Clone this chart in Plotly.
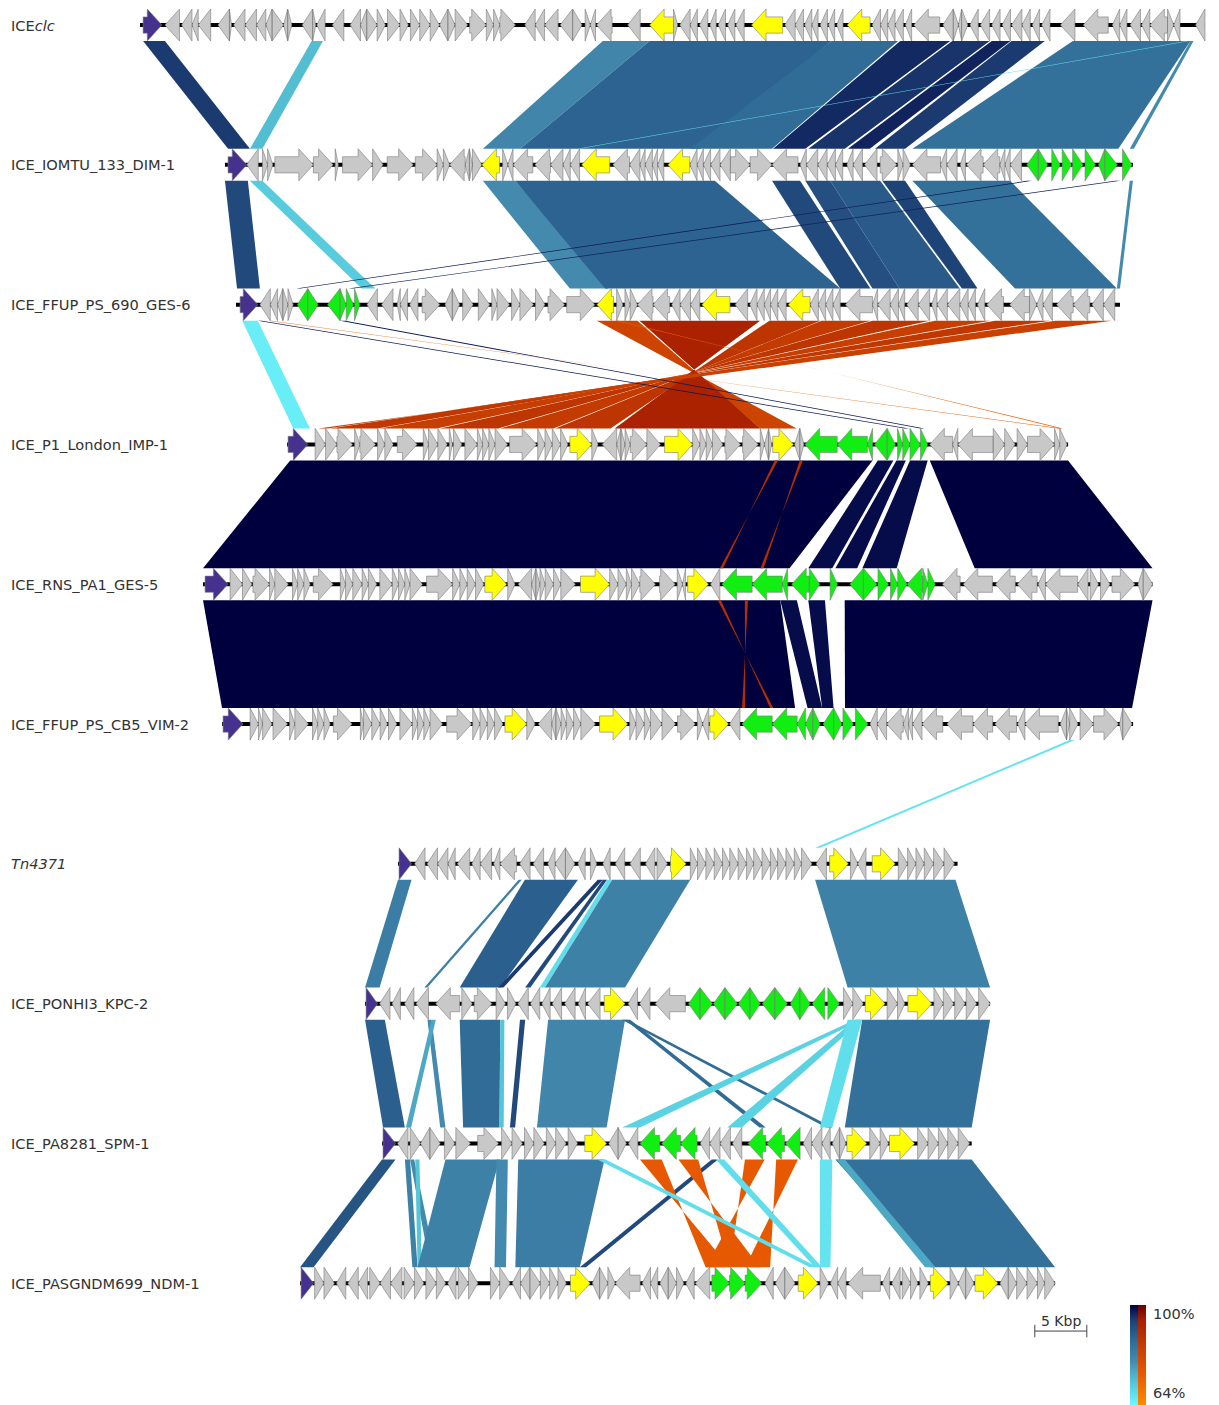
import plotly.graph_objects as go
from plotly.colors import sample_colorscale

# ---------------------------------------------------------------- tracks
TRACK_NAMES = [
    "ICE<i>clc</i>", "ICE_IOMTU_133_DIM-1", "ICE_FFUP_PS_690_GES-6",
    "ICE_P1_London_IMP-1", "ICE_RNS_PA1_GES-5", "ICE_FFUP_PS_CB5_VIM-2",
    "<i>Tn4371</i>", "ICE_PONHI3_KPC-2", "ICE_PA8281_SPM-1", "ICE_PASGNDM699_NDM-1",
]
# left end of each element on the shared kbp axis, and element length (kbp)
TRACK_OFFSETS = [13.46, 21.63, 22.69, 27.60, 19.52, 21.35, 38.27, 35.10, 36.73, 28.85]
TRACK_LENGTHS = [102.4, 87.3, 85.0, 75.1, 91.3, 87.6, 53.8, 60.1, 56.7, 72.6]

# genes: (start kbp, end kbp, strand, class)  i=integrase, m=marker, c=cargo, o=other
GENES_0 = [
    (0.3, 2.1, 1, "i"),
    (2.4, 3.8, -1, "o"), (4.0, 5.0, -1, "o"), (5.0, 5.6, -1, "o"), (5.6, 6.8, -1, "o"),
    (7.5, 8.6, -1, "o"), (8.6, 8.8, 1, "o"), (9.0, 10.1, -1, "o"), (10.1, 11.2, -1, "o"),
    (11.2, 12.1, -1, "o"), (12.1, 12.7, -1, "o"), (12.7, 13.8, 1, "o"), (13.8, 14.2, -1, "o"),
    (14.2, 14.6, 1, "o"), (15.6, 16.6, -1, "o"), (16.6, 16.9, 1, "o"), (17.0, 17.8, -1, "o"),
    (18.5, 19.6, -1, "o"), (20.2, 21.2, -1, "o"), (21.2, 21.8, -1, "o"), (21.8, 22.8, 1, "o"),
    (22.8, 23.6, 1, "o"), (23.8, 25.0, 1, "o"), (25.0, 25.8, 1, "o"), (26.0, 26.9, 1, "o"),
    (26.9, 27.9, 1, "o"), (27.9, 28.8, 1, "o"), (28.8, 29.6, -1, "o"), (29.6, 30.3, 1, "o"),
    (30.3, 31.5, 1, "o"), (31.7, 33.3, 1, "o"), (33.3, 34.0, 1, "o"), (34.0, 34.6, 1, "o"),
    (34.6, 36.1, 1, "o"), (37.0, 38.0, -1, "o"), (38.0, 38.9, -1, "o"), (38.9, 40.2, -1, "o"),
    (40.4, 41.6, -1, "o"), (41.6, 42.5, 1, "o"), (42.8, 43.3, 1, "o"), (43.3, 43.8, -1, "o"),
    (43.9, 45.4, -1, "o"), (46.9, 48.1, -1, "o"),
    (49.0, 51.3, -1, "m"),
    (51.3, 51.7, 1, "o"), (51.9, 52.9, -1, "o"), (52.9, 53.6, -1, "o"), (53.8, 54.6, -1, "o"),
    (54.8, 55.4, -1, "o"), (55.6, 56.3, -1, "o"), (56.5, 57.2, -1, "o"), (57.3, 58.1, -1, "o"),
    (58.8, 61.8, -1, "m"),
    (62.0, 63.0, -1, "o"), (63.0, 63.8, -1, "o"), (63.9, 64.6, -1, "o"), (64.6, 65.2, -1, "o"),
    (65.4, 66.1, -1, "o"), (66.2, 66.8, -1, "o"), (67.0, 67.6, -1, "o"),
    (68.0, 70.2, -1, "m"),
    (70.4, 71.2, -1, "o"), (71.2, 71.9, -1, "o"), (71.9, 72.6, -1, "o"), (72.6, 73.4, -1, "o"),
    (73.6, 74.2, -1, "o"), (74.4, 76.9, -1, "o"), (77.2, 78.2, -1, "o"), (78.2, 78.7, 1, "o"),
    (78.7, 79.0, -1, "o"), (79.0, 79.6, 1, "o"), (79.8, 80.6, -1, "o"), (80.8, 81.7, -1, "o"),
    (81.9, 82.7, -1, "o"), (82.9, 83.7, -1, "o"), (83.8, 84.8, -1, "o"), (84.8, 85.6, -1, "o"),
    (85.8, 86.5, -1, "o"), (86.7, 87.5, -1, "o"), (88.5, 89.9, -1, "o"), (90.7, 93.1, -1, "o"),
    (93.5, 94.2, -1, "o"), (94.2, 94.9, -1, "o"), (95.2, 96.2, -1, "o"), (96.3, 97.1, -1, "o"),
    (97.1, 98.8, -1, "o"), (98.8, 99.4, 1, "o"), (99.4, 100.0, -1, "o"), (101.5, 102.4, -1, "o"),
]
GENES_1 = [
    (0.3, 2.1, 1, "i"),
    (2.1, 3.2, -1, "o"), (3.6, 4.1, 1, "o"), (4.1, 4.6, 1, "o"), (4.8, 8.5, 1, "o"),
    (8.5, 10.4, 1, "o"), (10.6, 10.9, 1, "o"), (11.3, 14.2, 1, "o"), (14.2, 15.2, 1, "o"),
    (15.6, 18.1, 1, "o"), (18.3, 20.4, 1, "o"), (20.4, 21.0, 1, "o"), (21.0, 21.6, 1, "o"),
    (21.6, 23.1, -1, "o"), (23.1, 23.5, -1, "o"), (23.5, 23.8, 1, "o"), (23.8, 24.7, 1, "o"),
    (24.7, 26.4, -1, "m"),
    (26.7, 27.2, 1, "o"), (27.2, 27.7, -1, "o"), (27.7, 29.6, -1, "o"), (29.8, 31.3, -1, "o"),
    (31.3, 32.5, -1, "o"), (32.5, 33.2, -1, "o"), (33.2, 34.1, -1, "o"),
    (34.3, 37.0, -1, "m"),
    (37.3, 38.9, -1, "o"), (38.9, 39.9, -1, "o"), (39.9, 40.4, -1, "o"), (40.4, 41.1, -1, "o"),
    (41.1, 41.6, -1, "o"), (41.6, 42.2, -1, "o"),
    (42.6, 44.7, -1, "m"),
    (44.7, 45.4, -1, "o"), (45.4, 46.0, -1, "o"), (46.0, 46.7, -1, "o"), (46.7, 47.6, -1, "o"),
    (47.6, 48.6, -1, "o"), (48.6, 50.5, 1, "o"), (50.5, 52.6, 1, "o"), (52.6, 55.1, -1, "o"),
    (55.3, 55.9, -1, "o"), (55.9, 57.0, -1, "o"), (57.0, 57.9, -1, "o"), (57.9, 58.7, -1, "o"),
    (58.7, 59.4, -1, "o"), (59.8, 60.4, -1, "o"), (60.4, 61.3, -1, "o"), (61.5, 62.7, -1, "o"),
    (63.0, 64.6, 1, "o"), (64.7, 65.2, 1, "o"), (65.2, 65.9, 1, "o"), (66.1, 68.8, -1, "o"),
    (68.8, 69.4, -1, "o"), (69.4, 70.4, -1, "o"), (70.7, 71.2, -1, "o"), (71.3, 72.9, -1, "o"),
    (72.9, 74.5, -1, "o"), (74.5, 75.0, -1, "o"), (75.0, 75.5, -1, "o"), (75.5, 76.6, -1, "o"),
    (77.1, 78.2, -1, "c"), (78.2, 79.1, 1, "c"), (79.5, 80.3, 1, "c"), (80.5, 81.4, 1, "c"),
    (81.5, 82.5, 1, "c"), (82.7, 83.7, 1, "c"), (84.0, 84.6, -1, "c"), (84.6, 85.8, 1, "c"),
    (86.3, 87.2, 1, "c"),
]
GENES_2 = [
    (0.4, 2.1, 1, "i"),
    (2.3, 3.3, -1, "o"), (3.3, 4.0, -1, "o"), (4.0, 4.5, -1, "o"), (4.5, 5.0, 1, "o"), (5.0, 5.5, 1, "o"),
    (5.9, 6.9, -1, "c"), (6.9, 7.9, 1, "c"), (8.8, 10.0, -1, "c"), (10.0, 10.6, 1, "c"),
    (10.6, 11.3, 1, "c"), (11.4, 11.9, 1, "c"),
    (12.6, 13.6, -1, "o"), (14.0, 15.1, -1, "o"), (15.5, 15.8, -1, "o"), (15.8, 16.5, -1, "o"),
    (16.7, 17.5, -1, "o"), (17.9, 19.6, 1, "o"), (20.1, 20.8, -1, "o"), (20.8, 21.5, 1, "o"),
    (21.8, 22.8, 1, "o"), (23.3, 24.4, 1, "o"), (24.6, 25.1, 1, "o"), (25.1, 26.3, 1, "o"),
    (26.5, 27.3, 1, "o"), (27.3, 28.6, 1, "o"), (28.8, 29.7, 1, "o"), (30.0, 31.6, 1, "o"),
    (31.8, 34.5, 1, "o"),
    (34.7, 36.3, -1, "m"),
    (36.6, 37.2, 1, "o"), (37.4, 37.9, 1, "o"), (37.9, 38.6, 1, "o"), (38.6, 40.1, -1, "o"),
    (40.1, 41.7, -1, "o"), (41.9, 42.7, -1, "o"), (42.7, 43.7, -1, "o"), (43.7, 44.6, -1, "o"),
    (44.8, 47.5, -1, "m"),
    (48.0, 49.2, -1, "o"), (49.4, 50.1, -1, "o"), (50.1, 50.8, -1, "o"), (50.8, 51.4, -1, "o"),
    (51.4, 52.1, -1, "o"), (52.1, 52.9, -1, "o"),
    (53.1, 55.2, -1, "m"),
    (55.2, 56.0, -1, "o"), (56.0, 56.7, -1, "o"), (56.7, 57.4, -1, "o"), (57.4, 58.1, -1, "o"),
    (58.6, 61.2, -1, "o"), (61.2, 61.7, -1, "o"), (61.7, 62.9, -1, "o"), (62.9, 63.7, -1, "o"),
    (63.7, 64.3, -1, "o"), (64.5, 65.6, -1, "o"), (65.6, 66.7, -1, "o"), (66.9, 67.4, -1, "o"),
    (67.4, 68.4, -1, "o"), (68.4, 69.6, -1, "o"), (69.6, 70.4, -1, "o"), (70.4, 71.1, -1, "o"),
    (71.3, 72.0, -1, "o"), (72.2, 73.8, -1, "o"), (74.4, 76.3, -1, "o"), (76.3, 77.0, 1, "o"),
    (77.0, 77.6, -1, "o"), (77.6, 78.5, -1, "o"), (78.9, 80.5, -1, "o"), (80.5, 82.1, -1, "o"),
    (82.3, 83.4, -1, "o"), (83.4, 84.5, -1, "o"),
]
GENES_3 = [
    (0.1, 2.0, 1, "i"),
    (2.7, 3.7, 1, "o"), (3.7, 4.8, 1, "o"), (4.8, 6.3, 1, "o"), (6.5, 7.0, 1, "o"), (7.0, 8.5, 1, "o"),
    (8.7, 9.4, 1, "o"), (9.4, 10.2, 1, "o"), (10.6, 12.5, 1, "o"), (13.1, 13.6, 1, "o"),
    (13.6, 14.5, 1, "o"), (14.5, 15.4, 1, "o"), (15.6, 15.9, 1, "o"), (16.0, 16.8, 1, "o"),
    (17.1, 18.3, 1, "o"), (18.3, 18.8, 1, "o"), (18.8, 19.4, 1, "o"), (19.4, 20.0, 1, "o"),
    (20.0, 21.2, 1, "o"), (21.4, 24.0, 1, "o"), (24.1, 24.8, 1, "o"), (24.8, 25.5, 1, "o"),
    (25.5, 26.3, 1, "o"), (26.3, 27.0, 1, "o"),
    (27.2, 29.3, 1, "m"),
    (29.3, 29.9, 1, "o"), (30.3, 31.7, -1, "o"), (31.7, 32.1, -1, "o"), (32.1, 32.5, 1, "o"),
    (32.5, 33.0, 1, "o"), (33.0, 34.6, 1, "o"), (34.6, 35.9, 1, "o"),
    (36.3, 39.0, 1, "m"),
    (39.0, 39.7, 1, "o"), (39.7, 40.3, 1, "o"), (40.3, 40.9, 1, "o"), (40.9, 41.9, 1, "o"),
    (42.1, 43.6, 1, "o"), (43.8, 45.3, 1, "o"), (45.5, 45.9, 1, "o"), (45.9, 46.3, -1, "o"),
    (46.3, 46.6, 1, "o"),
    (46.7, 48.7, 1, "m"),
    (48.8, 49.3, -1, "o"), (49.3, 49.7, 1, "o"),
    (49.8, 52.9, -1, "c"), (52.9, 55.8, -1, "c"), (55.8, 56.3, -1, "c"), (56.5, 57.7, -1, "c"),
    (57.7, 58.5, 1, "c"), (58.7, 59.2, 1, "c"), (59.2, 59.9, 1, "c"), (59.9, 60.9, 1, "c"),
    (60.9, 61.6, 1, "c"),
    (61.8, 64.0, -1, "o"), (64.0, 64.5, -1, "o"), (64.5, 67.9, -1, "o"), (67.9, 69.0, 1, "o"),
    (69.0, 70.0, 1, "o"), (70.2, 71.2, 1, "o"), (71.2, 73.8, 1, "o"), (73.8, 74.3, 1, "o"),
    (74.3, 75.0, 1, "o"),
]
GENES_4 = [
    (0.2, 2.4, 1, "i"),
    (2.6, 3.8, 1, "o"), (3.8, 4.7, 1, "o"), (4.8, 6.4, 1, "o"), (6.4, 6.9, 1, "o"), (6.9, 8.2, 1, "o"),
    (8.6, 9.1, 1, "o"), (9.1, 9.7, 1, "o"), (9.7, 10.3, 1, "o"), (10.6, 12.5, 1, "o"),
    (13.2, 13.7, 1, "o"), (13.7, 14.4, 1, "o"), (14.4, 15.3, 1, "o"), (15.3, 15.9, 1, "o"),
    (15.9, 16.7, 1, "o"), (17.0, 18.2, 1, "o"), (18.2, 18.8, 1, "o"), (18.8, 19.4, 1, "o"),
    (19.4, 19.9, 1, "o"), (19.9, 21.1, 1, "o"), (21.5, 24.0, 1, "o"), (24.0, 24.7, 1, "o"),
    (24.7, 25.4, 1, "o"), (25.4, 26.2, 1, "o"), (26.2, 27.0, 1, "o"),
    (27.1, 29.2, 1, "m"),
    (29.3, 30.0, 1, "o"), (30.3, 31.6, -1, "o"), (31.6, 32.0, -1, "o"), (32.0, 32.4, 1, "o"),
    (32.4, 32.9, 1, "o"), (32.9, 33.7, 1, "o"), (33.7, 34.4, 1, "o"), (34.4, 35.8, 1, "o"),
    (36.3, 39.1, 1, "m"),
    (39.1, 39.9, 1, "o"), (39.9, 40.7, 1, "o"), (40.7, 41.2, 1, "o"), (41.2, 42.0, 1, "o"),
    (42.0, 43.5, 1, "o"), (43.9, 45.4, 1, "o"), (45.6, 46.1, 1, "o"), (46.1, 46.4, -1, "o"),
    (46.6, 48.6, 1, "m"),
    (48.8, 49.7, -1, "o"),
    (49.9, 52.8, -1, "c"), (52.8, 55.7, -1, "c"), (55.7, 56.2, -1, "c"), (56.6, 58.3, -1, "c"),
    (58.3, 59.3, 1, "c"), (60.3, 61.0, 1, "c"), (62.2, 63.5, -1, "c"), (63.5, 64.8, 1, "c"),
    (64.9, 65.9, 1, "c"), (66.1, 66.8, 1, "c"), (66.8, 67.7, 1, "c"), (67.7, 69.2, -1, "c"),
    (69.2, 69.7, 1, "c"), (69.7, 70.4, 1, "c"),
    (71.1, 72.8, -1, "o"), (73.1, 75.9, -1, "o"), (76.2, 78.1, -1, "o"), (78.3, 80.2, -1, "o"),
    (80.3, 81.0, -1, "o"), (81.0, 84.1, -1, "o"), (84.1, 85.1, -1, "o"), (85.3, 86.1, 1, "o"),
    (86.3, 87.2, 1, "o"), (87.4, 89.6, 1, "o"), (89.9, 90.4, -1, "o"), (90.4, 91.3, 1, "o"),
]
GENES_5 = [
    (0.1, 2.0, 1, "i"),
    (2.7, 3.5, 1, "o"), (3.5, 3.9, 1, "o"), (3.9, 4.8, 1, "o"), (4.9, 6.3, 1, "o"), (6.5, 7.0, 1, "o"),
    (7.0, 8.3, 1, "o"), (8.7, 9.2, 1, "o"), (9.2, 9.8, 1, "o"), (9.8, 10.4, 1, "o"),
    (10.7, 12.5, 1, "o"), (13.3, 13.6, 1, "o"), (13.6, 14.4, 1, "o"), (14.4, 15.2, 1, "o"),
    (15.2, 15.9, 1, "o"), (16.0, 16.8, 1, "o"), (17.1, 18.3, 1, "o"), (18.3, 18.8, 1, "o"),
    (18.8, 19.4, 1, "o"), (19.4, 20.0, 1, "o"), (20.0, 21.2, 1, "o"), (21.6, 24.0, 1, "o"),
    (24.1, 24.8, 1, "o"), (24.8, 25.5, 1, "o"), (25.5, 26.2, 1, "o"), (26.2, 27.0, 1, "o"),
    (27.2, 29.3, 1, "m"),
    (29.3, 30.1, 1, "o"), (30.4, 31.7, -1, "o"), (31.7, 32.1, -1, "o"), (32.1, 32.6, 1, "o"),
    (32.6, 33.1, 1, "o"), (33.1, 33.8, 1, "o"), (33.8, 34.5, 1, "o"), (34.5, 35.9, 1, "o"),
    (36.3, 39.0, 1, "m"),
    (39.2, 39.8, 1, "o"), (39.8, 40.6, 1, "o"), (40.6, 41.2, 1, "o"), (41.2, 42.3, 1, "o"),
    (42.3, 43.6, 1, "o"), (43.8, 45.5, 1, "o"), (45.7, 46.2, 1, "o"), (46.2, 46.8, -1, "o"),
    (46.9, 48.7, 1, "m"),
    (48.8, 49.8, -1, "o"),
    (50.0, 52.9, -1, "c"), (52.9, 55.3, -1, "c"), (55.3, 56.1, -1, "c"), (56.1, 56.8, -1, "c"),
    (56.8, 57.5, 1, "c"), (57.8, 58.8, -1, "c"), (58.8, 59.6, 1, "c"), (59.7, 60.7, 1, "c"),
    (60.9, 62.1, 1, "c"),
    (62.3, 63.0, -1, "o"), (63.0, 63.9, -1, "o"), (63.9, 65.5, -1, "o"), (65.5, 66.0, -1, "o"),
    (66.0, 66.4, -1, "o"), (66.4, 67.3, -1, "o"), (67.3, 69.3, -1, "o"), (69.7, 72.2, -1, "o"),
    (72.2, 74.1, -1, "o"), (74.3, 76.4, -1, "o"), (76.5, 77.2, -1, "o"), (77.2, 80.4, -1, "o"),
    (80.6, 81.2, -1, "o"), (81.2, 81.5, 1, "o"), (81.5, 82.3, 1, "o"), (82.5, 83.8, 1, "o"),
    (83.8, 86.2, 1, "o"), (86.3, 86.6, -1, "o"), (86.6, 87.5, 1, "o"),
]
GENES_6 = [
    (0.1, 1.3, 1, "i"),
    (1.6, 2.6, -1, "o"), (2.8, 3.8, -1, "o"), (3.8, 4.8, -1, "o"), (4.8, 5.5, -1, "o"),
    (5.7, 6.9, -1, "o"), (7.1, 7.9, -1, "o"), (7.9, 9.0, -1, "o"), (9.2, 9.8, -1, "o"),
    (9.8, 11.4, -1, "o"), (11.7, 12.7, -1, "o"), (13.0, 14.0, -1, "o"), (14.4, 15.1, -1, "o"),
    (15.1, 16.1, -1, "o"), (16.1, 17.0, 1, "o"), (17.3, 18.0, -1, "o"), (18.5, 19.1, 1, "o"),
    (19.7, 20.4, -1, "o"), (20.9, 21.8, -1, "o"), (22.3, 23.3, -1, "o"), (23.8, 24.7, -1, "o"),
    (24.9, 25.9, 1, "o"),
    (26.2, 27.7, 1, "m"),
    (28.1, 28.8, 1, "o"), (28.8, 29.6, 1, "o"), (29.6, 30.4, 1, "o"), (30.4, 31.2, 1, "o"),
    (31.2, 31.9, 1, "o"), (31.9, 32.7, 1, "o"), (32.7, 33.5, 1, "o"), (33.5, 34.2, 1, "o"),
    (34.2, 35.0, 1, "o"), (35.0, 35.8, 1, "o"), (35.8, 36.5, 1, "o"), (36.5, 37.3, 1, "o"),
    (37.3, 38.1, 1, "o"), (38.1, 38.8, 1, "o"), (38.8, 39.8, 1, "o"), (40.2, 41.2, -1, "o"),
    (41.5, 43.3, 1, "m"),
    (43.5, 44.2, 1, "o"), (44.2, 45.0, -1, "o"),
    (45.6, 47.8, 1, "m"),
    (48.1, 49.0, 1, "o"), (49.0, 49.8, 1, "o"), (49.8, 50.6, 1, "o"), (50.6, 51.5, 1, "o"),
    (51.5, 52.5, 1, "o"), (52.5, 53.5, 1, "o"),
]
GENES_7 = [
    (0.1, 1.2, 1, "i"),
    (1.4, 2.4, -1, "o"), (2.6, 3.4, -1, "o"), (3.8, 4.7, -1, "o"), (4.9, 6.1, -1, "o"),
    (6.8, 9.1, -1, "o"), (9.3, 10.3, 1, "o"), (10.5, 12.2, 1, "o"), (12.6, 13.5, 1, "o"),
    (13.7, 14.5, 1, "o"), (14.7, 15.7, -1, "o"), (15.9, 16.8, -1, "o"), (17.0, 17.8, -1, "o"),
    (18.0, 18.9, -1, "o"), (19.2, 20.2, -1, "o"), (20.5, 21.2, -1, "o"), (21.4, 22.6, -1, "o"),
    (23.0, 25.0, 1, "m"),
    (25.3, 26.2, -1, "o"), (26.4, 27.4, -1, "o"), (27.9, 30.8, -1, "o"),
    (31.1, 32.2, -1, "c"), (32.2, 33.4, 1, "c"), (33.5, 34.6, -1, "c"), (34.6, 35.8, 1, "c"),
    (35.9, 37.0, -1, "c"), (37.0, 38.0, 1, "c"), (38.2, 39.4, -1, "c"), (39.4, 40.6, 1, "c"),
    (40.9, 41.8, -1, "c"), (41.8, 42.8, 1, "c"), (43.0, 44.2, -1, "c"), (44.5, 45.6, 1, "c"),
    (46.0, 46.9, 1, "o"), (46.9, 47.9, 1, "o"),
    (48.1, 50.0, 1, "m"),
    (50.2, 51.2, 1, "o"), (51.2, 51.9, 1, "o"),
    (52.2, 54.5, 1, "m"),
    (54.7, 55.6, 1, "o"), (55.6, 56.6, 1, "o"), (56.7, 57.7, 1, "o"), (57.8, 58.8, 1, "o"),
    (59.0, 60.1, 1, "o"),
]
GENES_8 = [
    (0.1, 1.3, 1, "i"),
    (1.5, 2.5, -1, "o"), (2.7, 3.7, 1, "o"), (3.7, 4.6, -1, "o"), (4.6, 5.6, 1, "o"),
    (6.0, 7.0, 1, "o"), (7.1, 8.5, 1, "o"), (9.2, 11.2, 1, "o"), (11.5, 12.5, 1, "o"),
    (12.5, 13.5, 1, "o"), (13.7, 14.6, 1, "o"), (14.6, 15.6, 1, "o"), (15.8, 16.7, 1, "o"),
    (16.7, 17.7, 1, "o"), (17.9, 18.8, 1, "o"),
    (19.5, 21.6, 1, "m"),
    (21.8, 22.7, -1, "o"), (22.7, 23.5, 1, "o"), (23.7, 24.6, -1, "o"),
    (24.8, 26.7, -1, "c"), (26.9, 28.7, -1, "c"), (28.7, 30.3, -1, "c"),
    (30.6, 31.5, -1, "o"), (31.5, 32.5, -1, "o"), (32.5, 33.5, -1, "o"), (33.7, 34.6, -1, "o"),
    (35.2, 36.9, -1, "c"), (37.0, 38.7, -1, "c"), (38.8, 40.2, -1, "c"),
    (40.5, 41.3, -1, "o"), (41.3, 42.3, -1, "o"), (42.3, 43.1, -1, "o"), (43.3, 44.0, -1, "o"),
    (44.0, 44.6, 1, "o"),
    (44.7, 46.6, 1, "m"),
    (46.9, 47.9, 1, "o"), (47.9, 48.7, 1, "o"),
    (48.8, 51.2, 1, "m"),
    (51.5, 52.5, 1, "o"), (52.5, 53.5, 1, "o"), (53.5, 54.4, 1, "o"), (54.4, 55.4, 1, "o"),
    (55.4, 56.5, 1, "o"),
]
GENES_9 = [
    (0.1, 1.3, 1, "i"),
    (1.4, 2.3, 1, "o"), (2.3, 3.3, 1, "o"), (3.5, 4.4, -1, "o"), (4.6, 5.6, -1, "o"),
    (5.6, 6.5, -1, "o"), (6.7, 7.7, 1, "o"), (7.7, 8.7, -1, "o"), (8.7, 9.8, -1, "o"),
    (10.0, 11.0, 1, "o"), (11.0, 11.9, 1, "o"), (12.1, 13.1, 1, "o"), (13.1, 14.0, 1, "o"),
    (14.2, 15.0, -1, "o"), (15.2, 16.2, 1, "o"), (16.2, 17.1, 1, "o"), (18.3, 19.2, 1, "o"),
    (19.2, 20.2, 1, "o"), (20.4, 21.2, -1, "o"), (21.2, 22.1, -1, "o"), (22.1, 23.1, 1, "o"),
    (23.1, 24.0, 1, "o"), (24.0, 24.8, 1, "o"), (24.8, 25.6, 1, "o"),
    (26.0, 27.9, 1, "m"),
    (28.1, 28.8, -1, "o"), (28.8, 29.6, 1, "o"), (29.6, 30.3, 1, "o"), (30.3, 32.7, -1, "o"),
    (32.9, 33.7, -1, "o"), (33.7, 34.4, -1, "o"), (34.6, 35.4, -1, "o"), (35.4, 36.2, 1, "o"),
    (36.2, 36.9, 1, "o"), (37.1, 37.9, -1, "o"), (38.0, 39.4, -1, "o"),
    (39.6, 41.3, 1, "c"), (41.3, 42.8, 1, "c"), (42.8, 44.4, 1, "c"),
    (44.7, 45.5, -1, "o"), (45.7, 46.6, -1, "o"), (46.6, 47.6, 1, "o"),
    (47.9, 49.8, 1, "m"),
    (50.0, 50.8, 1, "o"), (51.0, 51.7, -1, "o"), (51.7, 52.5, -1, "o"), (52.7, 55.8, -1, "o"),
    (56.0, 56.7, -1, "o"), (56.9, 57.7, -1, "o"), (57.9, 58.7, 1, "o"), (58.7, 59.4, 1, "o"),
    (59.6, 60.4, 1, "o"),
    (60.6, 62.3, 1, "m"),
    (62.5, 63.3, 1, "o"), (63.3, 64.0, -1, "o"), (64.0, 64.8, 1, "o"),
    (64.9, 67.1, 1, "m"),
    (67.3, 68.1, -1, "o"), (68.1, 68.9, 1, "o"), (68.9, 69.9, 1, "o"), (69.9, 70.9, 1, "o"),
    (70.9, 71.6, 1, "o"), (71.6, 72.6, 1, "o"),
]
TRACK_GENES = [GENES_0, GENES_1, GENES_2, GENES_3, GENES_4,
               GENES_5, GENES_6, GENES_7, GENES_8, GENES_9]

# ---------------------------------------------------------------- BLAST hits
# (upper start, upper end, lower start, lower end, identity %, inverted)
HITS_0_1 = [
    (0.3, 2.4, 0.3, 2.4, 95, False), (16.5, 17.6, 2.4, 3.6, 73, False),
    (44.5, 49.0, 24.8, 28.4, 81, False), (49.0, 66.5, 28.4, 45.7, 88.5, False),
    (66.5, 72.9, 44.7, 52.6, 87, False), (73.1, 77.9, 52.7, 55.8, 96.5, False),
    (78.1, 81.7, 56.1, 59.6, 95.5, False), (81.9, 83.7, 59.9, 62.0, 97, False),
    (83.8, 87.0, 62.5, 65.4, 95, False), (89.7, 101.0, 66.1, 85.9, 86, False),
    (101.0, 101.3, 87.0, 87.4, 80, False), (100.6, 100.9, 33.9, 34.2, 68, False),
]
HITS_1_2 = [
    (0.0, 2.2, 0.1, 2.3, 93, False), (2.4, 3.6, 12.1, 13.4, 71, False),
    (24.8, 27.9, 32.1, 35.8, 80, False), (27.9, 47.1, 35.5, 58.1, 88.5, False),
    (52.6, 55.3, 58.1, 61.0, 93, False), (55.8, 58.2, 61.2, 63.8, 92, False),
    (58.2, 63.0, 63.8, 69.6, 90, False), (63.2, 65.4, 69.8, 71.3, 94, False),
    (66.1, 75.5, 74.9, 84.7, 86, False), (87.0, 87.3, 84.7, 85.0, 80, False),
    (77.1, 77.6, 5.8, 6.2, 98, False), (85.6, 86.1, 10.8, 11.3, 97, False),
]
HITS_2_3 = [
    (0.6, 2.1, 0.6, 2.2, 65.5, False),
    (34.7, 38.6, 45.5, 49.0, 83, True), (38.8, 50.4, 31.5, 45.5, 94, True),
    (51.3, 56.2, 25.8, 31.1, 88, True), (56.3, 61.0, 20.5, 25.6, 86, True),
    (61.2, 66.7, 14.7, 20.3, 88, True), (67.2, 72.5, 8.9, 14.4, 85, True),
    (73.0, 78.3, 4.1, 8.7, 87, True), (78.8, 84.2, 3.0, 3.9, 84, True),
    (2.1, 2.5, 59.4, 59.8, 98, False), (10.0, 10.5, 60.9, 61.3, 98, False),
    (3.1, 3.4, 74.1, 74.5, 74, True), (36.5, 36.8, 74.3, 74.6, 74, True),
]
HITS_3_4 = [
    (0.3, 56.3, 0.0, 56.4, 100, False), (56.8, 58.3, 58.2, 60.5, 99, False),
    (58.6, 59.5, 60.8, 62.9, 99, False), (59.9, 61.6, 63.4, 66.7, 99, False),
    (61.8, 75.1, 74.2, 91.3, 100, False),
    (46.9, 47.2, 49.7, 50.0, 90, True), (49.3, 49.6, 53.6, 53.9, 90, True),
]
HITS_4_5 = [
    (0.0, 55.5, 0.0, 55.1, 100, False), (55.5, 57.1, 56.3, 57.7, 99, False),
    (58.2, 59.8, 57.7, 58.8, 99, False), (61.7, 91.3, 59.9, 87.5, 100, False),
    (49.5, 49.8, 52.7, 53.0, 90, True), (52.1, 52.4, 50.0, 50.3, 90, True),
]
HITS_5_6 = [
    (81.5, 82.0, 40.1, 40.6, 67, False),
]
HITS_6_7 = [
    (0.0, 1.3, 0.0, 1.4, 83, False), (11.6, 11.9, 5.7, 6.0, 82, False),
    (12.2, 17.3, 9.1, 13.0, 89, False), (19.2, 19.7, 12.8, 13.3, 95, False),
    (19.7, 20.1, 15.4, 15.9, 93, False), (20.1, 20.6, 16.8, 17.3, 68, False),
    (20.6, 28.1, 17.3, 25.0, 82, False), (40.1, 53.6, 46.4, 60.1, 82, False),
]
HITS_7_8 = [
    (0.0, 1.9, 0.1, 2.2, 89, False), (6.0, 6.4, 5.6, 6.1, 80, False),
    (6.4, 6.8, 2.3, 2.8, 76, False), (9.1, 13.0, 7.8, 11.3, 87, False),
    (13.0, 13.4, 11.3, 11.7, 72, False), (14.9, 15.4, 12.3, 12.8, 93, False),
    (17.6, 25.0, 14.9, 21.6, 81, False), (24.7, 25.2, 42.7, 43.3, 87, False),
    (25.0, 25.5, 36.3, 36.9, 87, False), (47.8, 60.1, 44.5, 56.7, 86, False),
    (47.1, 47.8, 23.1, 24.8, 70, False), (47.1, 47.8, 33.2, 34.6, 70, False),
    (46.4, 47.8, 42.1, 43.3, 68, False),
]
HITS_8_9 = [
    (0.0, 1.3, 0.0, 1.3, 91, False), (2.2, 2.7, 10.8, 11.3, 82, False),
    (2.7, 3.1, 12.5, 13.1, 80, False), (3.2, 3.6, 11.3, 11.7, 72, False),
    (6.1, 11.3, 11.3, 16.3, 82, False), (11.0, 12.1, 18.7, 19.8, 80, False),
    (13.1, 21.4, 20.7, 26.9, 83, False), (31.7, 32.3, 26.9, 27.5, 93, False),
    (24.8, 26.9, 39.0, 41.3, 75, True), (28.5, 30.4, 41.3, 44.2, 75, True),
    (34.9, 36.8, 39.0, 41.3, 75, True), (37.9, 40.0, 42.8, 45.2, 75, True),
    (43.6, 56.7, 60.6, 72.6, 86, False),
    (20.7, 21.5, 49.0, 49.8, 68, False), (32.1, 32.9, 49.5, 50.2, 68, False),
    (42.1, 43.3, 50.0, 51.0, 67, False), (43.7, 44.5, 60.1, 61.1, 76, False),
]
PAIR_HITS = [HITS_0_1, HITS_1_2, HITS_2_3, HITS_3_4, HITS_4_5,
             HITS_5_6, HITS_6_7, HITS_7_8, HITS_8_9]

ID_MIN, ID_MAX = 64, 100
SCALE_BAR_KBP = 5

# ---------------------------------------------------------------- styling
GENE_FILL = {"o": "#c8c8c8", "m": "#ffff00", "c": "#11ee11", "i": "#46318e"}
BLUE_SCALE = [[0.0, "#6ef7ff"], [0.22, "#55c6d8"], [0.45, "#4389ad"],
              [0.65, "#2f6a95"], [0.85, "#1d3f74"], [1.0, "#00003f"]]
RED_SCALE = [[0.0, "#ff8a00"], [0.3, "#e85a00"], [0.6, "#c43c00"],
             [0.85, "#a82000"], [1.0, "#660000"]]
HALF_H = 0.1145     # half height of a gene arrow (track units)
SHAFT_H = 0.058     # half height of the arrow shaft
HEAD = 1.4          # arrow head length (kbp)
LABEL_FONT = dict(family="DejaVu Sans, Verdana, sans-serif", size=14.6, color="#333333")


def arrow_shape(x0, x1, strand, yc):
    length = x1 - x0
    if strand > 0:
        tip, tail, base = x1, x0, x1 - min(length, HEAD)
    else:
        tip, tail, base = x0, x1, x0 + min(length, HEAD)
    if length <= HEAD:
        return [tail, tip, tail, tail], [yc - HALF_H, yc, yc + HALF_H, yc - HALF_H]
    xs = [tail, base, base, tip, base, base, tail, tail]
    ys = [yc - SHAFT_H, yc - SHAFT_H, yc - HALF_H, yc, yc + HALF_H,
          yc + SHAFT_H, yc + SHAFT_H, yc - SHAFT_H]
    return xs, ys


fig = go.Figure()

# comparison polygons between neighbouring elements
for k, hits in enumerate(PAIR_HITS):
    up_off, lo_off = TRACK_OFFSETS[k], TRACK_OFFSETS[k + 1]
    y_top, y_bot = k + HALF_H, k + 1 - HALF_H
    for (a0, a1, b0, b1, ident, inv) in hits:
        t = (ident - ID_MIN) / (ID_MAX - ID_MIN)
        colour = sample_colorscale(RED_SCALE if inv else BLUE_SCALE, [t])[0]
        if inv:
            xs = [up_off + a0, up_off + a1, lo_off + b0, lo_off + b1, up_off + a0]
        else:
            xs = [up_off + a0, up_off + a1, lo_off + b1, lo_off + b0, up_off + a0]
        ys = [y_top, y_top, y_bot, y_bot, y_top]
        fig.add_trace(go.Scatter(x=xs, y=ys, mode="lines", fill="toself",
                                 fillcolor=colour, line=dict(width=0),
                                 hoverinfo="skip", showlegend=False))

# backbone of every element
bx, by = [], []
for i, (off, ln) in enumerate(zip(TRACK_OFFSETS, TRACK_LENGTHS)):
    bx += [off, off + ln, None]
    by += [i, i, None]
fig.add_trace(go.Scatter(x=bx, y=by, mode="lines", line=dict(color="black", width=4),
                         hoverinfo="skip", showlegend=False))

# gene arrows, one trace per gene class
for cls, fill in GENE_FILL.items():
    gx, gy = [], []
    for i, genes in enumerate(TRACK_GENES):
        off = TRACK_OFFSETS[i]
        for (s, e, strand, kind) in genes:
            if kind != cls:
                continue
            xs, ys = arrow_shape(off + s, off + e, strand, i)
            gx += xs + [None]
            gy += ys + [None]
    fig.add_trace(go.Scatter(x=gx, y=gy, mode="lines", fill="toself", fillcolor=fill,
                             line=dict(color="#7c7c7c", width=0.6),
                             hoverinfo="skip", showlegend=False))

# element names
for i, name in enumerate(TRACK_NAMES):
    fig.add_annotation(x=9 / 1219, xref="paper", y=i, yref="y", text=name,
                       showarrow=False, xanchor="left", yanchor="middle", font=LABEL_FONT)

# scale bar
sb_x0, sb_y = 99.5, 9.342
fig.add_trace(go.Scatter(
    x=[sb_x0, sb_x0 + SCALE_BAR_KBP, None, sb_x0, sb_x0, None,
       sb_x0 + SCALE_BAR_KBP, sb_x0 + SCALE_BAR_KBP],
    y=[sb_y, sb_y, None, sb_y - 0.045, sb_y + 0.045, None, sb_y - 0.045, sb_y + 0.045],
    mode="lines", line=dict(color="#444444", width=1), hoverinfo="skip", showlegend=False))
fig.add_annotation(x=sb_x0 + SCALE_BAR_KBP / 2, y=sb_y, xref="x", yref="y",
                   text=f"{SCALE_BAR_KBP} Kbp", showarrow=False, yanchor="bottom",
                   font=dict(family=LABEL_FONT["family"], size=14, color="#333333"))

# identity colour keys (direct = blue, inverted = red)
for scale, xpos in ((BLUE_SCALE, 1130 / 1219), (RED_SCALE, 1138 / 1219)):
    fig.add_trace(go.Scatter(
        x=[None], y=[None], mode="markers", hoverinfo="skip", showlegend=False,
        marker=dict(color=[ID_MAX], cmin=ID_MIN, cmax=ID_MAX, colorscale=scale,
                    showscale=True,
                    colorbar=dict(x=xpos, xanchor="left", xpad=0, y=0, yanchor="bottom",
                                  ypad=0, len=100, lenmode="pixels", thickness=8,
                                  outlinewidth=0, showticklabels=False, ticks=""))))
fig.add_annotation(x=1151 / 1219, y=1 - 1313 / 1405, xref="paper", yref="paper",
                   text=f"{ID_MAX}%", showarrow=False, xanchor="left", yanchor="middle",
                   font=LABEL_FONT)
fig.add_annotation(x=1151 / 1219, y=1 - 1403 / 1405, xref="paper", yref="paper",
                   text=f"{ID_MIN}%", showarrow=False, xanchor="left", yanchor="bottom",
                   font=LABEL_FONT)

fig.update_layout(
    width=1219, height=1405, margin=dict(l=0, r=0, t=0, b=0),
    paper_bgcolor="white", plot_bgcolor="white",
    xaxis=dict(range=[0, 117.21], visible=False, fixedrange=True),
    yaxis=dict(range=[9.871, -0.179], visible=False, fixedrange=True),
)
fig.write_html("out.html")
